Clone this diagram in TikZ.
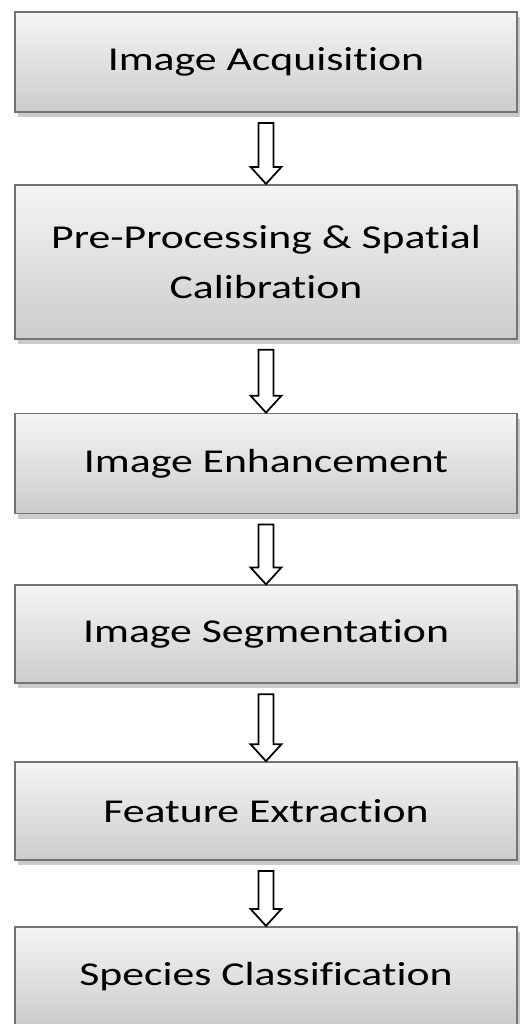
\documentclass[tikz,border=0pt]{standalone}
\usepackage{fontspec}
\setmainfont[FakeStretch=1.31, Ligatures=NoCommon]{Carlito}
\usetikzlibrary{positioning, shadows, calc}

\begin{document}
\begin{tikzpicture}[
	stage/.style={draw=gray!90!black, line width=1pt, top color=gray!8, bottom color=gray!40,
		minimum width=10.04cm, minimum height=2cm, align=center,
		font=\fontsize{19}{28.5}\selectfont,
		drop shadow={shadow xshift=0.05cm, shadow yshift=-0.1cm, fill=gray!70, opacity=0.6}},
	blockarrow/.style={draw=black, fill=white, line width=1pt,
		to path={let \p1=(\tikztostart), \p2=(\tikztotarget) in
			(\x1-0.15cm,\y1) -- (\x1+0.15cm,\y1) -- (\x1+0.15cm,\y2+0.34cm) -- (\x1+0.31cm,\y2+0.34cm)
			-- (\x1,\y2) -- (\x1-0.31cm,\y2+0.34cm) -- (\x1-0.15cm,\y2+0.34cm) -- cycle}}
	]

		\useasboundingbox (0,0) rectangle (10.38,-20.48);

		\node[stage] (acquisition) at (5.32,-1.24) {Image Acquisition};
		\node[stage, minimum height=3.08cm] (preprocessing) [below = 1.42cm of acquisition] {Pre-Processing \& Spatial\\Calibration};
		\node[stage] (enhancement)  [below = 1.46cm of preprocessing] {Image Enhancement};
		\node[stage, minimum height=1.96cm] (segmentation) [below = 1.40cm of enhancement] {Image Segmentation};
		\node[stage, minimum height=1.96cm] (features)     [below = 1.54cm of segmentation] {Feature Extraction};
		\node[stage, minimum height=1.98cm] (classification) [below = 1.30cm of features] {Species Classification};

		\draw[blockarrow] ([yshift=-0.2cm]acquisition.south) to (preprocessing.north);
		\draw[blockarrow] ([yshift=-0.2cm]preprocessing.south) to (enhancement.north);
		\draw[blockarrow] ([yshift=-0.2cm]enhancement.south) to (segmentation.north);
		\draw[blockarrow] ([yshift=-0.2cm]segmentation.south) to (features.north);
		\draw[blockarrow] ([yshift=-0.2cm]features.south) to (classification.north);
	\end{tikzpicture}
\end{document}
